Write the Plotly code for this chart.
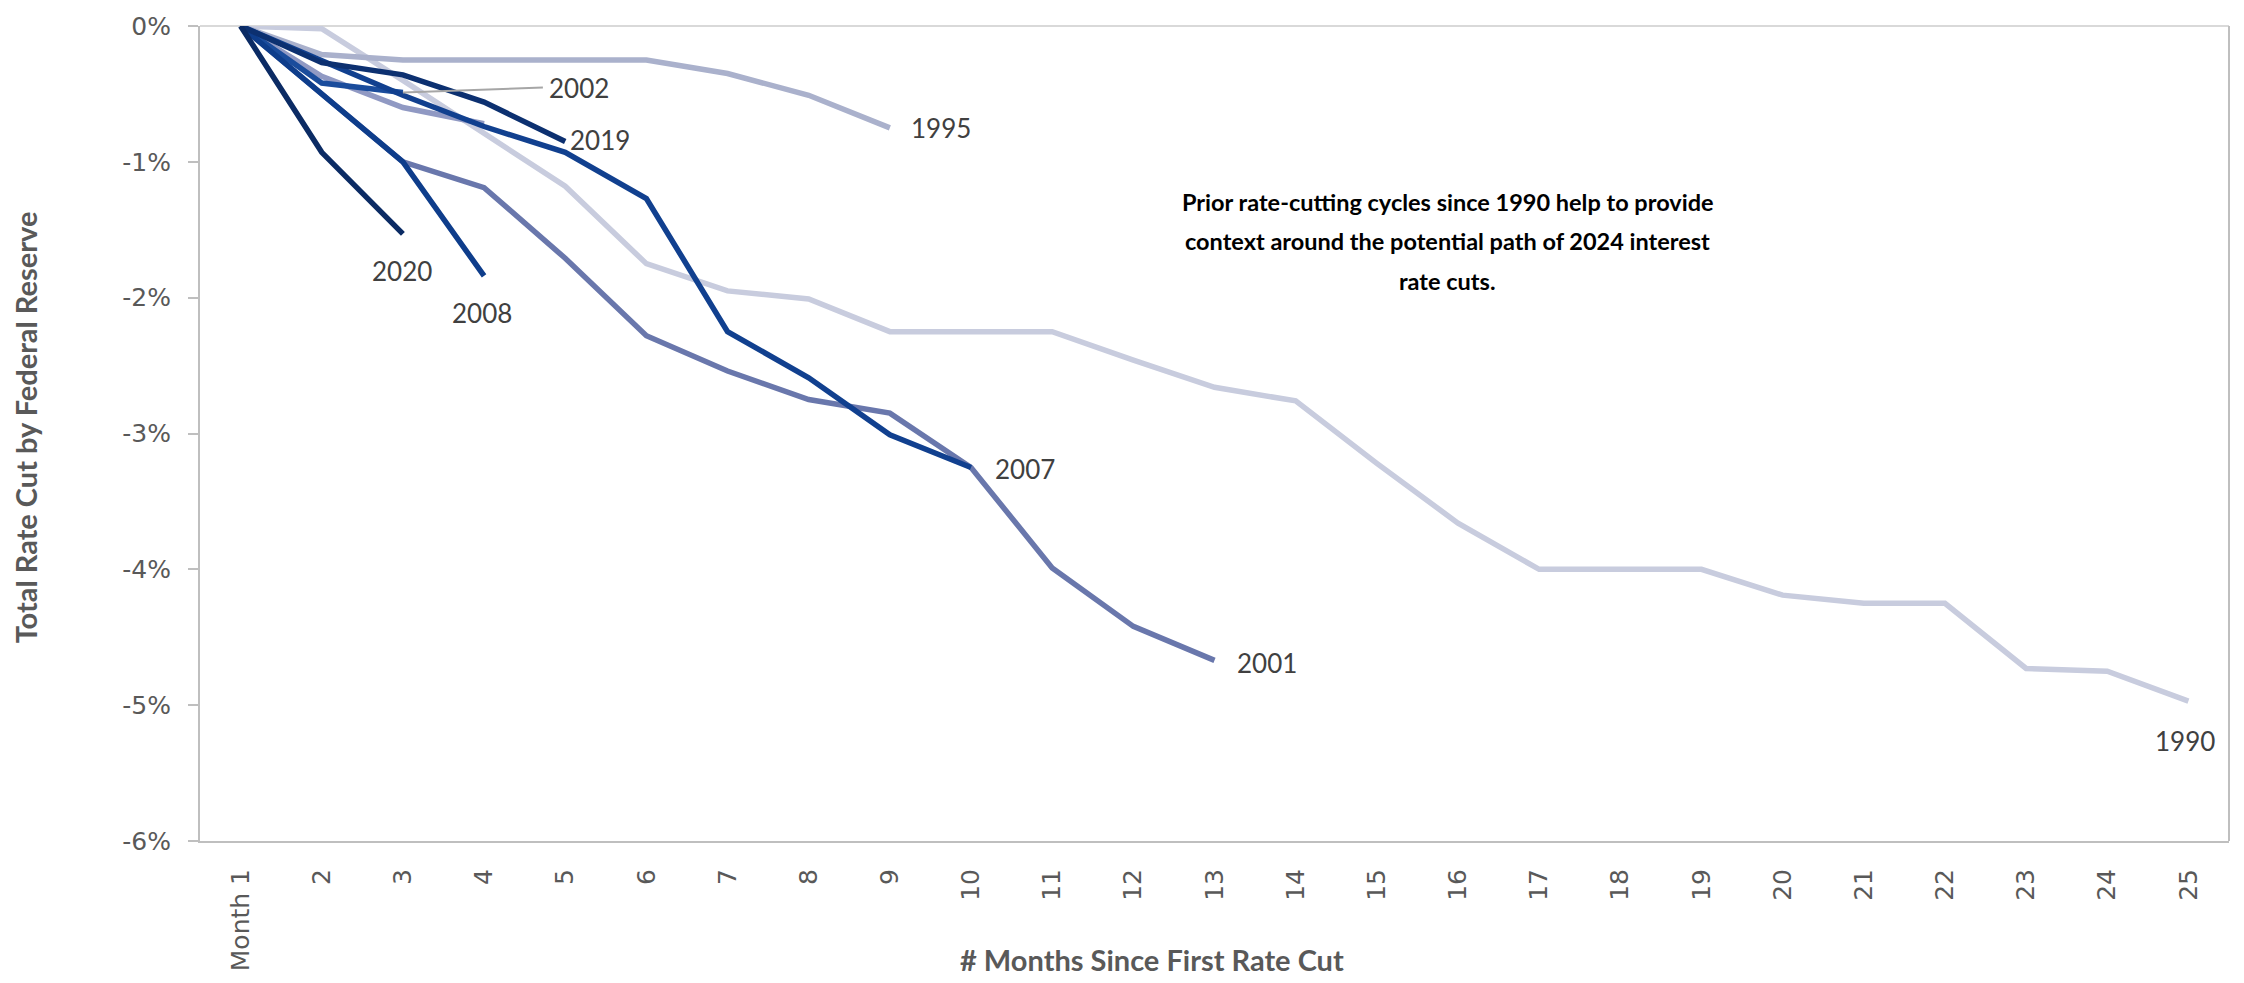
import plotly.graph_objects as go

# ---------------- data ----------------
months = list(range(1, 26))
month_labels = ["Month 1"] + [str(m) for m in range(2, 26)]

y_tick_vals = [0, -1, -2, -3, -4, -5, -6]
y_tick_text = ["0%", "-1%", "-2%", "-3%", "-4%", "-5%", "-6%"]

cut_1990 = [0, -0.02, -0.40, -0.79, -1.18, -1.75, -1.95, -2.01, -2.25, -2.25, -2.25, -2.46, -2.66,
            -2.76, -3.22, -3.66, -4.00, -4.00, -4.00, -4.19, -4.25, -4.25, -4.73, -4.75, -4.97]
cut_1995 = [0, -0.21, -0.25, -0.25, -0.25, -0.25, -0.35, -0.51, -0.75]
cut_1998 = [0, -0.37, -0.60, -0.72]
cut_2001 = [0, -0.50, -1.00, -1.19, -1.71, -2.28, -2.54, -2.75, -2.85, -3.25, -3.99, -4.42, -4.67]
cut_2002 = [0, -0.42, -0.49]
cut_2007 = [0, -0.26, -0.51, -0.74, -0.93, -1.27, -2.25, -2.59, -3.01, -3.25]
cut_2008 = [0, -0.50, -1.00, -1.84]
cut_2019 = [0, -0.27, -0.36, -0.56, -0.85]
cut_2020 = [0, -0.93, -1.53]

series = [
    ("1990", cut_1990, "#C8CCDE"),
    ("1995", cut_1995, "#AAB1CC"),
    ("1998", cut_1998, "#9099C3"),
    ("2001", cut_2001, "#6977AC"),
    ("2002", cut_2002, "#1A4C9C"),
    ("2007", cut_2007, "#11408F"),
    ("2008", cut_2008, "#0E3D8B"),
    ("2019", cut_2019, "#0C3070"),
    ("2020", cut_2020, "#0B2B64"),
]

# label placement style: (xanchor, yanchor, xshift, yshift)
label_style = {
    "1990": ("center", "middle", -3, -40),
    "1995": ("left", "middle", 19, 0),
    "2001": ("left", "middle", 20, -3),
    "2007": ("left", "middle", 22, -2),
    "2008": ("center", "middle", -2, -37),
    "2019": ("left", "middle", 3, 1),
    "2020": ("center", "middle", -1, -37),
}

LABEL_FONT = dict(family="Lato, Calibri, Carlito, sans-serif", size=26, color="#404040")
TICK_FONT = dict(family="DejaVu Sans, Verdana, sans-serif", size=25, color="#595959")
TITLE_FONT = dict(family="Lato, Calibri, Carlito, sans-serif", size=29, color="#595959", weight="bold")

fig = go.Figure()
for name, vals, color in series:
    fig.add_trace(go.Scatter(
        x=months[:len(vals)], y=vals, mode="lines", name=name,
        line=dict(color=color, width=5.5), showlegend=False, hoverinfo="skip",
    ))

annotations = []
for name, vals, color in series:
    if name in label_style:
        xa, ya, xs, ys = label_style[name]
        annotations.append(dict(
            x=months[len(vals) - 1], y=vals[-1], xref="x", yref="y", text=name,
            showarrow=False, xanchor=xa, yanchor=ya, xshift=xs, yshift=ys, font=LABEL_FONT,
        ))

# 2002 label with leader line
annotations.append(dict(
    x=months[len(cut_2002) - 1], y=cut_2002[-1], xref="x", yref="y", text="2002",
    showarrow=True, arrowhead=0, arrowwidth=2, arrowcolor="#A6A6A6",
    ax=140, ay=-5, xanchor="left", yanchor="middle", borderpad=5, font=LABEL_FONT,
))

# axis titles
annotations.append(dict(
    text="Total Rate Cut by Federal Reserve", xref="paper", yref="paper",
    x=-0.086, y=0.507, textangle=-90, showarrow=False, font=TITLE_FONT,
    xanchor="center", yanchor="middle",
))
annotations.append(dict(
    text="# Months Since First Rate Cut", xref="paper", yref="paper",
    x=0.469, y=-0.145, showarrow=False, font=TITLE_FONT, xanchor="center", yanchor="middle",
))

# note text
note_lines = [
    "Prior rate-cutting cycles since 1990 help to provide",
    "context around the potential path of 2024 interest",
    "rate cuts.",
]
NOTE_FONT = dict(family="Lato, Calibri, Carlito, sans-serif", size=23.5, color="#000000", weight="bold")
for i, line in enumerate(note_lines):
    annotations.append(dict(
        text=line, xref="paper", yref="paper", x=0.615, y=(848 - 200 - 40 * i) / 826,
        showarrow=False, font=NOTE_FONT, xanchor="center", yanchor="middle",
    ))

fig.update_layout(
    width=2244, height=983,
    margin=dict(l=200, r=15, t=20, b=133),
    paper_bgcolor="white", plot_bgcolor="white",
    annotations=annotations,
    shapes=[
        dict(type="line", xref="paper", yref="paper", x0=0, x1=1, y0=1, y1=1,
             line=dict(color="#D9D9D9", width=2), layer="below"),
        dict(type="line", xref="paper", yref="paper", x0=1, x1=1, y0=0, y1=1,
             line=dict(color="#BFBFBF", width=2), layer="below"),
    ],
)

fig.update_xaxes(
    range=[0.5, 25.5], tickvals=months, ticktext=month_labels, tickangle=-90,
    showgrid=False, zeroline=False, showline=True, linecolor="#BFBFBF", linewidth=2,
    ticks="", tickfont=TICK_FONT, ticklabelstandoff=16,
)
fig.update_yaxes(
    range=[-6, 0], tickvals=y_tick_vals, ticktext=y_tick_text,
    showgrid=False, zeroline=False, showline=True, linecolor="#BFBFBF", linewidth=2,
    ticks="outside", ticklen=10, tickcolor="#BFBFBF", tickwidth=2,
    tickfont=TICK_FONT, ticklabelstandoff=12,
)

fig.write_html("out.html")
